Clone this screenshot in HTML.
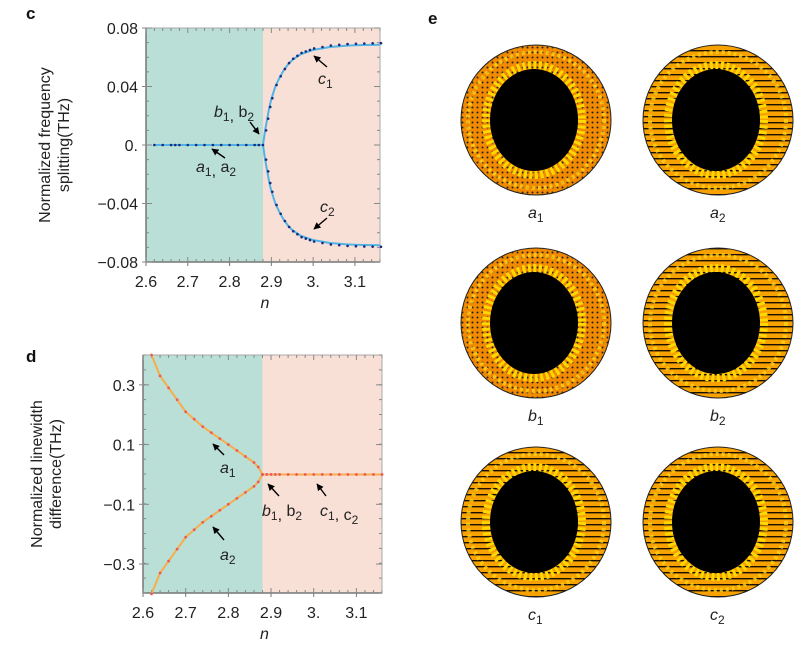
<!DOCTYPE html>
<html><head><meta charset="utf-8"><style>
body{margin:0;background:#fff;width:803px;height:653px;overflow:hidden;font-family:"Liberation Sans",Arial,sans-serif}
svg{position:absolute;left:0;top:0}
</style></head><body>
<svg width="803" height="653" viewBox="0 0 803 653" font-family="Liberation Sans, Arial, sans-serif">
<defs>
<marker id="ah" viewBox="0 0 10 10" refX="9" refY="5" markerWidth="5" markerHeight="5" orient="auto-start-reverse"><path d="M0,0 L10,5 L0,10 z" fill="#000"/></marker>
<pattern id="dots" width="5" height="5" patternUnits="userSpaceOnUse"><rect width="5" height="5" fill="#f28a00"/><circle cx="2.5" cy="2.5" r="1.0" fill="#222"/></pattern>
<pattern id="wav" width="6" height="6" patternUnits="userSpaceOnUse"><rect width="6" height="6" fill="#f7a200"/><rect y="2" width="6" height="1.4" fill="#1a1000"/></pattern>
</defs>
<g id="panelC"></g>
<g id="panelD"></g>
<g id="panelE"></g>
</svg>
<script>
const NS='http://www.w3.org/2000/svg';
// Panel c data
const cN=[2.885,2.89,2.895,2.90,2.91,2.92,2.93,2.94,2.95,2.96,2.97,2.98,2.99,3.00,3.02,3.04,3.06,3.08,3.10,3.12,3.14,3.16];
const cVal=[0.010,0.018,0.026,0.032,0.041,0.047,0.052,0.056,0.059,0.061,0.063,0.064,0.065,0.066,0.067,0.068,0.0685,0.069,0.0692,0.0694,0.0695,0.0696];
const cFlatN=[2.62,2.64,2.66,2.67,2.68,2.70,2.72,2.74,2.76,2.78,2.80,2.82,2.84,2.86,2.87,2.88];
const cYTicks=[0.08,0.04,0,-0.04,-0.08];
const cYLabels=['0.08','0.04','0.','\u22120.04','\u22120.08'];
const xTicks=[2.6,2.7,2.8,2.9,3.0,3.1];
const xLabels=['2.6','2.7','2.8','2.9','3.','3.1'];
// Panel d data
const dN=[2.62,2.64,2.66,2.68,2.70,2.72,2.74,2.76,2.78,2.80,2.82,2.84,2.86,2.87,2.88];
const dVal=[0.40,0.33,0.29,0.25,0.21,0.185,0.16,0.14,0.12,0.10,0.08,0.06,0.04,0.025,0.0];
const dFlatN=[2.88,2.89,2.90,2.91,2.92,2.94,2.96,2.98,3.00,3.02,3.04,3.06,3.08,3.10,3.12,3.14,3.16];
const dYTicks=[0.3,0.1,-0.1,-0.3];
const dYLabels=['0.3','0.1','\u22120.1','\u22120.3'];
const boundaryN=2.88;

function el(t,a,p){const e=document.createElementNS(NS,t);for(const k in a)e.setAttribute(k,a[k]);p.appendChild(e);return e;}

function axes(g,o){
  const X=v=>o.x0+(v-o.xmin)/(o.xmax-o.xmin)*(o.x1-o.x0);
  const Y=v=>o.y1-(v-o.ymin)/(o.ymax-o.ymin)*(o.y1-o.y0);
  let r=el('rect',{x:o.x0,y:o.y0,width:X(boundaryN)-o.x0,height:o.y1-o.y0,fill:'#badfd6'},g);
  
  r=el('rect',{x:X(boundaryN),y:o.y0,width:o.x1-X(boundaryN),height:o.y1-o.y0,fill:'#f9e0d6'},g);
  
  const fr=el('rect',{x:o.x0,y:o.y0,width:o.x1-o.x0,height:o.y1-o.y0,fill:'none',stroke:'#aaa','stroke-width':1},g);
  
  el('line',{x1:o.x0,x2:o.x1,y1:o.y1,y2:o.y1,stroke:'#777','stroke-width':1.5},g);
  el('line',{x1:o.x0,x2:o.x0,y1:o.y0,y2:o.y1,stroke:'#777','stroke-width':1.5},g);
  for(let v=2.6;v<=3.165;v+=0.02){const x=X(v);const maj=Math.abs((v*10)-Math.round(v*10))<0.01;
    el('line',{x1:x,x2:x,y1:o.y1,y2:o.y1-(maj?5:3),stroke:'#888'},g);el('line',{x1:x,x2:x,y1:o.y0,y2:o.y0+(maj?5:3),stroke:'#888'},g);
    if(maj)el('line',{x1:x,x2:x,y1:o.y1,y2:o.y1+4,stroke:'#777'},g);}
  for(let i=0;i<=o.nMinor;i++){const y=o.y0+i*(o.y1-o.y0)/o.nMinor;
    el('line',{x1:o.x0,x2:o.x0+3,y1:y,y2:y,stroke:'#888'},g);el('line',{x1:o.x1,x2:o.x1-3,y1:y,y2:y,stroke:'#888'},g);}
  xTicks.forEach((v,i)=>{const t=el('text',{x:X(v),y:o.y1+25,'font-size':16,'text-anchor':'middle',fill:'#222'},g);t.textContent=xLabels[i];
    });
  o.yT.forEach((v,i)=>{const y=Y(v);el('line',{x1:o.x0-4,x2:o.x0+6,y1:y,y2:y,stroke:'#888'},g);el('line',{x1:o.x1,x2:o.x1-6,y1:y,y2:y,stroke:'#888'},g);
    const t=el('text',{x:o.x0-8,y:y+6,'font-size':16,'text-anchor':'end',fill:'#222'},g);t.textContent=o.yL[i];
    });
  const xt=el('text',{x:(o.x0+o.x1)/2+2,y:o.y1+46,'font-size':16,'font-style':'italic','text-anchor':'middle',fill:'#222'},g);xt.textContent='n';
  
  const yt=el('text',{transform:`translate(${o.ytx},${(o.y0+o.y1)/2}) rotate(-90)`,'font-size':16,'text-anchor':'middle',fill:'#222'},g);
  
  o.yTitle.forEach((s,i)=>{const ts=el('tspan',{x:0,dy:i?19:0},yt);ts.textContent=s;});
  const pl=el('text',{x:o.lx,y:o.ly,'font-size':17,'font-weight':'bold',fill:'#111'},g);pl.textContent=o.label;
  
  return {X,Y};
}
function label(g,x,y,parts,name){const t=el('text',{x:x,y:y,'font-size':16,fill:'#222'},g);
  parts.forEach(p=>{const s=el('tspan',{},t);if(p[1]==='i')s.setAttribute('font-style','italic');if(p[1]==='sub'){s.setAttribute('font-size',12);s.setAttribute('dy',4);}if(p[1]==='up'){s.setAttribute('dy',-4);}s.textContent=p[0];});}
function arrow(g,x1,y1,x2,y2,name){const a=el('line',{x1,y1,x2,y2,stroke:'#000','stroke-width':1.4,'marker-end':'url(#ah)'},g);}

// ---- Panel C
const gc=document.getElementById('panelC');
const C=axes(gc,{x0:146,x1:380,y0:28,y1:262,xmin:2.6,xmax:3.16,ymin:-0.08,ymax:0.08,nMinor:16,yT:cYTicks,yL:cYLabels,ytx:50,yTitle:['Normalized frequency','splitting(THz)'],label:'c',lx:26,ly:19});
(function(){
  const flat=cFlatN.map(n=>[C.X(n),C.Y(0)]);
  const up=[[C.X(boundaryN),C.Y(0)]].concat(cN.map((n,i)=>[C.X(n),C.Y(cVal[i]*0.985)]));
  const dn=[[C.X(boundaryN),C.Y(0)]].concat(cN.map((n,i)=>[C.X(n),C.Y(-cVal[i]*0.985)]));
  [[flat,'line-flat'],[up,'line-c1'],[dn,'line-c2']].forEach(([p,nm])=>{const l=el('polyline',{points:p.map(q=>q.join(',')).join(' '),fill:'none',stroke:'#4fb3e6','stroke-width':2},gc);});
  cFlatN.forEach(n=>{const d=el('circle',{cx:C.X(n),cy:C.Y(0),r:1.3,fill:'#1a2a7a'},gc);});
  cN.forEach((n,i)=>{[1,-1].forEach(s=>{const d=el('circle',{cx:C.X(n)+1,cy:C.Y(s*cVal[i]),r:1.3,fill:'#1a2a7a'},gc);});});
})();
label(gc,214,117,[['b','i'],['1','sub'],[', ',''],['b','up'],['2','sub']],'label-b1-b2');
label(gc,196,172,[['a','i'],['1','sub'],[', ',''],['a','up'],['2','sub']],'label-a1-a2');
label(gc,318,84,[['c','i'],['1','sub']],'label-c1');
label(gc,320,212,[['c','i'],['2','sub']],'label-c2');
arrow(gc,250,122,259,134,'arrow-b');arrow(gc,225,158,212,149,'arrow-a');arrow(gc,327,67,314,56,'arrow-c1');arrow(gc,327,218,314,229,'arrow-c2');

// ---- Panel D
const gd=document.getElementById('panelD');
const D=axes(gd,{x0:143,x1:382,y0:355,y1:593,xmin:2.6,xmax:3.16,ymin:-0.397,ymax:0.4,nMinor:16,yT:dYTicks,yL:dYLabels,ytx:42,yTitle:['Normalized linewidth','difference(THz)'],label:'d',lx:26,ly:362});
(function(){
  const up=dN.map((n,i)=>[D.X(n),D.Y(dVal[i])]);
  const dn=dN.map((n,i)=>[D.X(n),D.Y(-dVal[i])]);
  const flat=dFlatN.map(n=>[D.X(n),D.Y(0)]);
  [[up,'line-a1'],[dn,'line-a2'],[flat,'line-flat']].forEach(([p,nm])=>{const l=el('polyline',{points:p.map(q=>q.join(',')).join(' '),fill:'none',stroke:'#f5ae4a','stroke-width':2},gd);});
  dN.forEach((n,i)=>{[1,-1].forEach(s=>{const d=el('circle',{cx:D.X(n),cy:D.Y(s*dVal[i]),r:1.4,fill:'#ee5a5a'},gd);});});
  dFlatN.forEach(n=>{const d=el('circle',{cx:D.X(n),cy:D.Y(0),r:1.4,fill:'#ee5a5a'},gd);});
})();
label(gd,220,473,[['a','i'],['1','sub']],'label-a1');
label(gd,220,560,[['a','i'],['2','sub']],'label-a2');
label(gd,262,516,[['b','i'],['1','sub'],[', ',''],['b','up'],['2','sub']],'label-b1-b2');
label(gd,320,516,[['c','i'],['1','sub'],[', c',''],['2','sub']],'label-c1-c2');
arrow(gd,224,455,213,444,'arrow-a1');arrow(gd,224,540,213,527,'arrow-a2');arrow(gd,279,496,268,484,'arrow-b');arrow(gd,326,496,317,484,'arrow-c');
const eL=el('text',{x:428,y:24,'font-size':17,'font-weight':'bold',fill:'#111'},gd);eL.textContent='e';


// ---- Panel E (mode patterns)
const ge=document.getElementById('panelE');
const modes=[['a','1',536,120,'dots'],['a','2',718,120,'wav'],['b','1',536,323,'dots'],['b','2',718,323,'wav'],['c','1',536,522,'wav'],['c','2',718,522,'wav']];
modes.forEach(m=>{
  const g=el('g',{},ge);
  const cx=m[2],cy=m[3];
  el('circle',{cx,cy,r:75,fill:'url(#'+m[4]+')',stroke:'#222','stroke-width':1},g);
  el('circle',{cx,cy,r:68,fill:'none',stroke:'#ffd21a','stroke-width':4,'stroke-dasharray':'3 3',opacity:0.8},g);
  el('ellipse',{cx:cx-2,cy:cy,rx:48,ry:55,fill:'none',stroke:'#ffd800','stroke-width':8,'stroke-dasharray':'3 2.5'},g);
  el('ellipse',{cx:cx-2,cy:cy,rx:44,ry:51,fill:'#000'},g);
  label(ge,cx-8,cy+98,[[m[0],'i'],[m[1],'sub']],'label-'+m[0]+m[1]);
});
</script>
</body></html>
